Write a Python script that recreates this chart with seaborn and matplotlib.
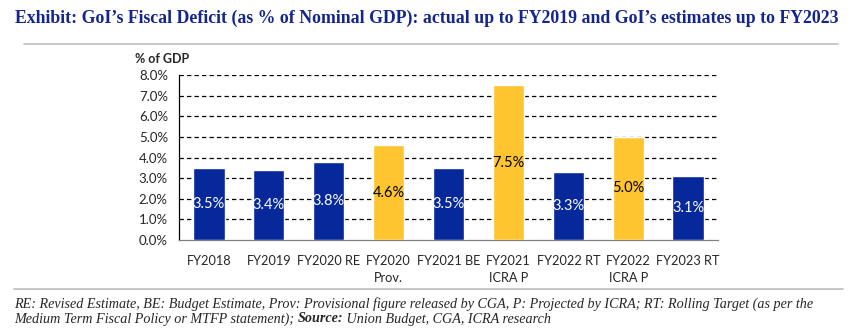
import matplotlib
matplotlib.use("Agg")
import matplotlib.pyplot as plt
import seaborn as sns
import pandas as pd
from matplotlib.lines import Line2D

categories = ["FY2018", "FY2019", "FY2020 RE", "FY2020\nProv.", "FY2021 BE",
              "FY2021\nICRA P", "FY2022 RT", "FY2022\nICRA P", "FY2023 RT"]
values = [3.5, 3.4, 3.8, 4.6, 3.5, 7.5, 3.3, 5.0, 3.1]
kinds = ["GoI", "GoI", "GoI", "ICRA", "GoI", "ICRA", "GoI", "ICRA", "GoI"]
yticks = [0, 1, 2, 3, 4, 5, 6, 7, 8]

BLUE = "#06289a"
YELLOW = "#ffc530"
colors = {"GoI": BLUE, "ICRA": YELLOW}

sns.set_style("white")
plt.rcParams['font.family'] = ['Lato', 'DejaVu Sans']

df = pd.DataFrame({"cat": categories, "val": values, "kind": kinds})

fig = plt.figure(figsize=(8.6, 3.36), dpi=100)
ax = fig.add_axes([179/860, 1-240/336, 539/860, 165/336])

sns.barplot(data=df, x="cat", y="val", hue="kind", palette=colors, saturation=1,
            dodge=False, width=0.52, legend=False, ax=ax, zorder=3)

ax.set_ylim(0, 8)
ax.set_xlim(-0.5, len(categories) - 0.5)
ax.set_yticks(yticks)
ax.set_yticklabels([f"{v:.1f}%" for v in yticks], fontsize=9.5)
ax.set_xticks(range(len(categories)))
ax.set_xticklabels(categories, fontsize=9.2, linespacing=1.45)
ax.set_xticks([i - 0.5 for i in range(len(categories) + 1)], minor=True)
ax.tick_params(axis="x", which="major", length=0, pad=11)
ax.tick_params(axis="x", which="minor", length=4, color="#808080", direction="out")
ax.tick_params(axis="y", length=5, color="black", direction="out", pad=3)
ax.set_xlabel("")
ax.set_ylabel("")
for y in yticks[1:]:
    ax.axhline(y, color="black", linestyle=(0, (3.5, 2.5)), linewidth=0.9, zorder=1)
for s in ["top", "right"]:
    ax.spines[s].set_visible(False)
ax.spines["left"].set_color("black")
ax.spines["left"].set_linewidth(0.9)
ax.spines["bottom"].set_color("#808080")
ax.spines["bottom"].set_linewidth(0.9)

for i, (v, k) in enumerate(zip(values, kinds)):
    ax.text(i, v / 2, f"{v:.1f}%", ha="center", va="center", fontsize=10.5,
            color="white" if k == "GoI" else "black", zorder=4)

fig.text(135/860, 1-59/336, "% of GDP", fontsize=9, fontweight="bold",
         ha="left", va="center")

fig.text(15/860, 1-18/336,
         "Exhibit: GoI\u2019s Fiscal Deficit (as % of Nominal GDP): actual up to FY2019 and GoI\u2019s estimates up to FY2023",
         fontsize=12.8, fontweight="bold", color="#14258c",
         family=["Liberation Serif", "DejaVu Serif"], ha="left", va="center")

fig.add_artist(Line2D([24/860, 838/860], [1-44/336, 1-44/336], color="#bdbdbd", lw=1.2))
fig.add_artist(Line2D([14/860, 843/860], [1-289/336, 1-289/336], color="#bdbdbd", lw=1.2))

serif = ["Liberation Serif", "DejaVu Serif"]
fs = 10.2
fig.text(14/860, 1-304/336,
         "RE: Revised Estimate, BE: Budget Estimate, Prov: Provisional figure released by CGA, P: Projected by ICRA; RT: Rolling Target (as per the",
         fontsize=fs, style="italic", family=serif, ha="left", va="center")
renderer = fig.canvas.get_renderer()
t1 = fig.text(14/860, 1-319/336, "Medium Term Fiscal Policy or MTFP statement); ",
              fontsize=fs, style="italic", family=serif, ha="left", va="center")
bb = t1.get_window_extent(renderer)
x2 = bb.x1 / fig.bbox.width
t2 = fig.text(x2, 1-319/336, "Source:", fontsize=fs, style="italic", fontweight="bold",
              family=serif, ha="left", va="center")
bb2 = t2.get_window_extent(renderer)
x3 = bb2.x1 / fig.bbox.width
fig.text(x3, 1-319/336, " Union Budget, CGA, ICRA research", fontsize=fs, style="italic",
         family=serif, ha="left", va="center")

fig.savefig("out.png", dpi=100)
